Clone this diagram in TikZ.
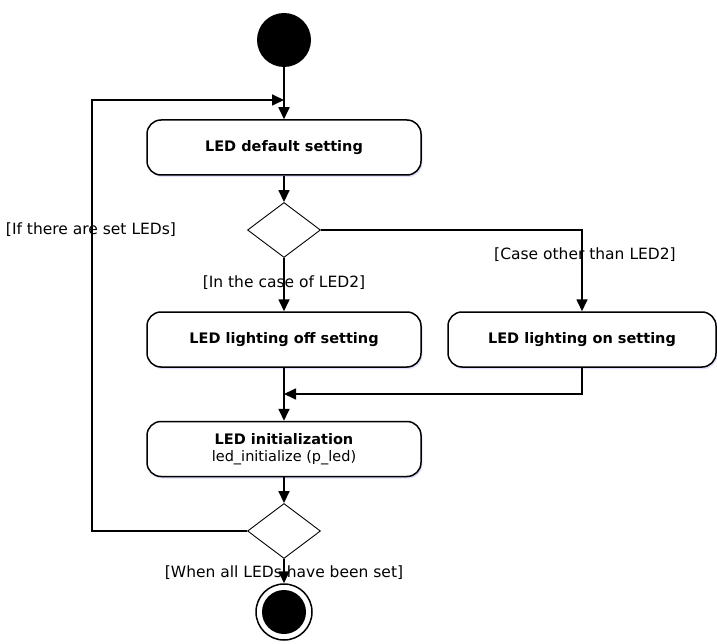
\documentclass[tikz,border=0pt]{standalone}
\usepackage{fontspec}
\setmainfont{DejaVu Sans}
\usetikzlibrary{shapes.geometric,arrows.meta,shadows}

\tikzset{
  action/.style={draw, line width=1.5pt, rounded corners=14pt,
    minimum width=274pt, minimum height=55pt, inner sep=0pt, fill=white,
    font=\fontsize{14.5}{17}\selectfont\bfseries,
    drop shadow={shadow xshift=1.5pt, shadow yshift=-2pt, fill=blue!12, opacity=1}},
  choice/.style={draw, diamond, line width=0.9pt, minimum width=73pt,
    minimum height=55pt, inner sep=0pt, fill=white},
  flow/.style={line width=1.7pt, -{Triangle[length=12pt,width=11pt]}},
  guard/.style={font=\fontsize{15.5}{18}\selectfont, inner sep=1pt},
}

\begin{document}
\begin{tikzpicture}[x=1pt,y=-1pt]
    % page frame
    \useasboundingbox (0,0) rectangle (717,644);

    % initial and final states
    \node[circle, fill=black, minimum size=54pt, inner sep=0pt] (start) at (284,40) {};
    \node[circle, draw, line width=1.5pt, minimum size=56pt, inner sep=0pt] (finish) at (284,612) {};
    \node[circle, fill=black, minimum size=44pt, inner sep=0pt] (finishdot) at (finish) {};

    % actions
    \node[action] (default) at (284,147.5) {LED default setting};
    \node[action] (off) at (284,339.5) {LED lighting off setting};
    \node[action, minimum width=268pt] (on) at (582,339.5) {LED lighting on setting};
    \node[action, align=center] (init) at (284,449)
        {LED initialization\\{\mdseries led\_initialize (p\_led)}};

    % decisions
    \node[choice] (led2) at (284,230) {};
    \node[choice] (more) at (284,531) {};

    % helper points
    \coordinate (join) at (284,100);
    \coordinate (merge) at (284,394);
    \coordinate (loopcorner) at (92,100);

    % flows
    \draw[flow] (start) -- (default);
    \draw[flow] (default) -- (led2);
    \draw[flow] (led2.south) -- (off.north);
    \draw[flow] (led2.east) -| (on.north);
    \draw[flow] (off) -- (init);
    \draw[flow] (on.south) |- (merge);
    \draw[flow] (init) -- (more);
    \draw[flow] (more.south) -- (finish.north);
    \draw[flow] (more.west) -| (loopcorner) -- (join);

    % guards
    \node[guard] (ifset) at (91,230) {[If there are set LEDs]};
    \node[guard] (isled2) at (284,283) {[In the case of LED2]};
    \node[guard] (notled2) at (585,255) {[Case other than LED2]};
    \node[guard] (alldone) at (284,573) {[When all LEDs have been set]};
\end{tikzpicture}
\end{document}
